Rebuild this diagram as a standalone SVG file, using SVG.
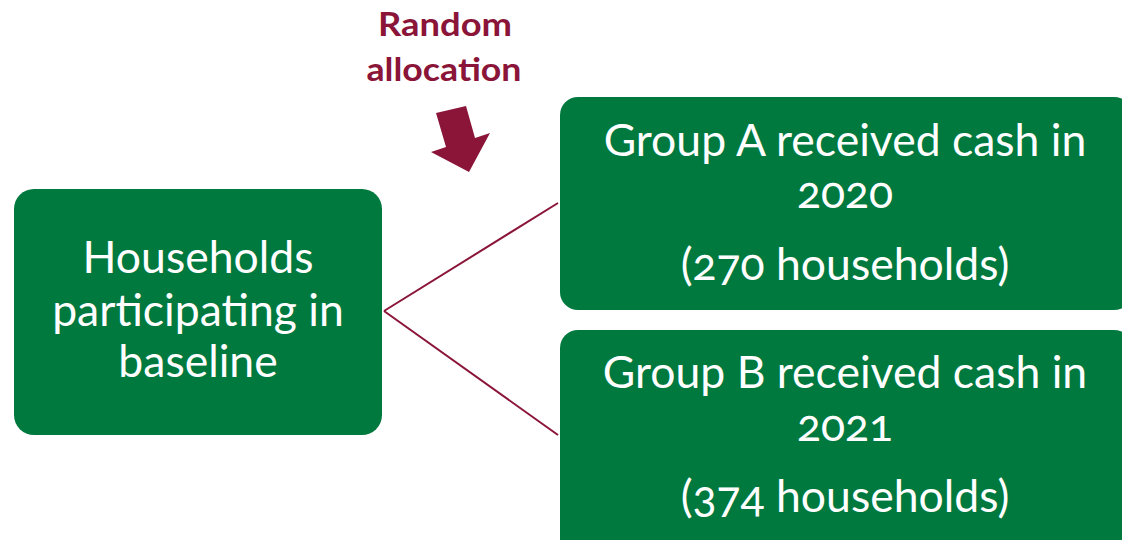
<svg xmlns="http://www.w3.org/2000/svg" width="1122" height="540" viewBox="0 0 1122 540">
<style>
.box{fill:#00793F;}
.t{font-family:Lato,"Open Sans","Liberation Sans",sans-serif;font-size:44.5px;fill:#fff;text-anchor:middle;font-variant-numeric:oldstyle-nums;}
.lab{font-family:Lato,"Open Sans","Liberation Sans",sans-serif;font-size:33px;font-weight:bold;fill:#8A1538;text-anchor:middle;}
.con{stroke:#8A1538;stroke-width:2;fill:none;}
</style>
<rect width="1122" height="540" fill="#fff"/>
<g id="connectors">
<path class="con" d="M384,311 L558,203"/>
<path class="con" d="M384,311 L558,435"/>
</g>
<g id="baseline">
<rect class="box" x="14" y="189" width="368" height="246" rx="20"/>
<text class="t" x="198" y="273">Households</text>
<text class="t" x="198" y="326">participating in</text>
<text class="t" x="198" y="377">baseline</text>
</g>
<g id="groupA">
<rect class="box" x="560" y="97" width="572" height="213" rx="18"/>
<text class="t" x="845" y="156">Group A received cash in</text>
<text class="t" x="845" y="208">2020</text>
<text class="t" x="845" y="280">(270 households)</text>
</g>
<g id="groupB">
<rect class="box" x="560" y="330" width="572" height="230" rx="18"/>
<text class="t" x="845" y="388">Group B received cash in</text>
<text class="t" x="845" y="441">2021</text>
<text class="t" x="845" y="512">(374 households)</text>
</g>
<g id="random-allocation">
<text class="lab" x="445" y="36" textLength="134" lengthAdjust="spacingAndGlyphs">Random</text>
<text class="lab" x="444" y="81" textLength="155" lengthAdjust="spacingAndGlyphs">allocation</text>
<polygon points="436,113 466,106 475,138 490,133 469,172 431,152 446,147" fill="#8A1538"/>
</g>
</svg>
